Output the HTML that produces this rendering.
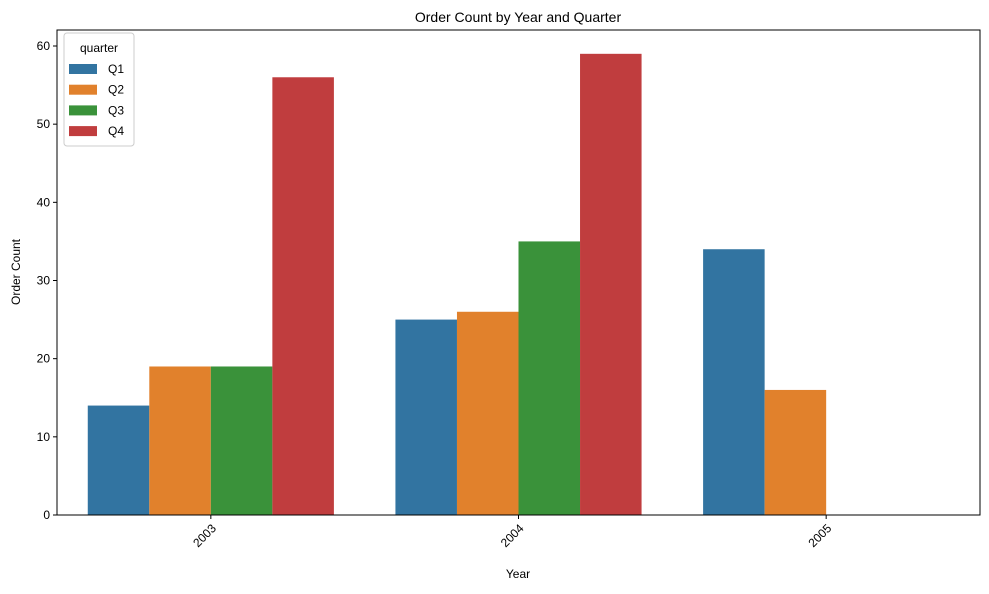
<!DOCTYPE html>
<html><head><meta charset="utf-8"><style>
body{margin:0;background:#fff;}
svg{font-family:"Liberation Sans","DejaVu Sans",sans-serif;}
</style></head><body>
<svg id="chart" width="989" height="589" xmlns="http://www.w3.org/2000/svg">
<rect width="989" height="589" fill="#fff"/>
<text x="518" y="22" font-size="14" text-anchor="middle">Order Count by Year and Quarter</text>
<g id="bars"></g>
<g id="axes"></g>
<text x="518" y="578" font-size="12" text-anchor="middle">Year</text>
<text transform="translate(20,272) rotate(-90)" font-size="12" text-anchor="middle">Order Count</text>
<g id="legend"></g>
</svg>
<script>
const years = ["2003","2004","2005"];
const quarters = ["Q1","Q2","Q3","Q4"];
const q1 = [14,25,34];
const q2 = [19,26,16];
const q3 = [19,35,0];
const q4 = [56,59,0];
const yTicks = [0,10,20,30,40,50,60];
const colors = ["#3274a1","#e1812c","#3a923a","#c03d3e"];
const series = [q1,q2,q3,q4];
const L=57,R=980,T=30,B=515;
const yMax=60, y60=46;
function y(v){return B-(B-y60)*v/yMax;}
const band=(R-L)/years.length;
function xc(i){return L+band*(i+0.5);}
const NS="http://www.w3.org/2000/svg";
function mk(tag,attrs,parent){const e=document.createElementNS(NS,tag);for(const k in attrs)e.setAttribute(k,attrs[k]);parent.appendChild(e);return e;}
const bars=document.getElementById('bars');
const bw=band*0.8/4;
series.forEach((s,qi)=>{s.forEach((v,i)=>{
  const x=xc(i)-band*0.4+qi*bw;
  const r=mk('rect',{x:x,y:y(v),width:bw,height:B-y(v),fill:colors[qi]},bars);
  
  
});});
const ax=document.getElementById('axes');
const fr=mk('rect',{x:L,y:T,width:R-L,height:B-T,fill:'none',stroke:'#000','stroke-width':1},ax);


yTicks.forEach(t=>{
  mk('line',{x1:L-4,x2:L,y1:y(t),y2:y(t),stroke:'#000'},ax);
  const tx=mk('text',{x:L-7,y:y(t)+4,'font-size':12,'text-anchor':'end'},ax);
  tx.textContent=t;
  
  
});
years.forEach((yr,i)=>{
  const cx=xc(i);
  mk('line',{x1:cx,x2:cx,y1:B,y2:B+4,stroke:'#000'},ax);
  const tx=mk('text',{transform:`translate(${cx+6},${B+14}) rotate(-45)`,'font-size':12,'text-anchor':'end'},ax);
  tx.textContent=yr;
  
  
});
const lg=document.getElementById('legend');
mk('rect',{x:64,y:33,width:70,height:113,rx:3,fill:'#fff','fill-opacity':0.8,stroke:'#ccc'},lg);
const lt=mk('text',{x:99,y:52,'font-size':12,'text-anchor':'middle'},lg);
lt.textContent='quarter';


quarters.forEach((q,i)=>{
  const yy=69+i*20.7;
  const p=mk('rect',{x:69,y:yy-5,width:28,height:10,fill:colors[i]},lg);
  
  
  const t=mk('text',{x:108,y:yy+4,'font-size':12},lg);
  t.textContent=q;
  
  
});
</script>
</body></html>
